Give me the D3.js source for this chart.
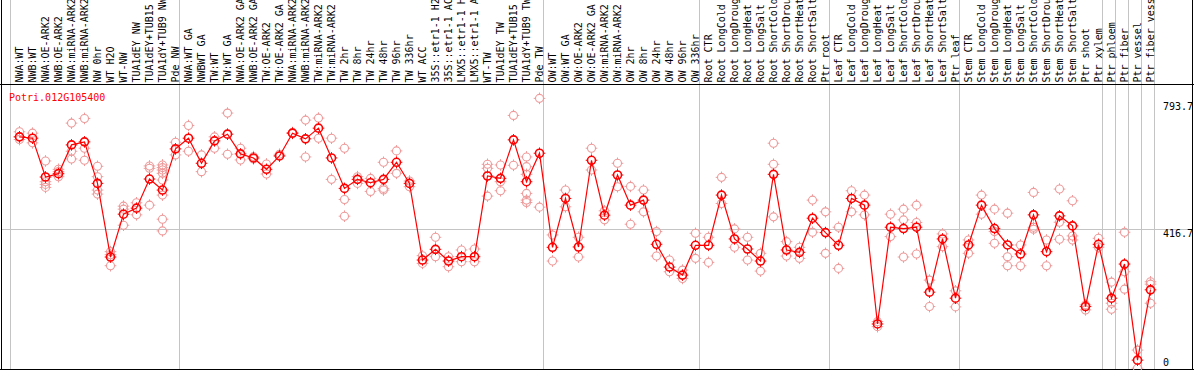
<!DOCTYPE html>
<html>
<head>
<meta charset="utf-8">
<script src="https://cdn.jsdelivr.net/npm/d3@7"></script>
<style>
html,body{margin:0;padding:0;background:#fff;}
svg{display:block;}
text{font-family:"DejaVu Sans Mono",monospace;font-size:10px;}
</style>
</head>
<body>
<div id="chart"></div>
<script>
const geneName = "Potri.012G105400";

const categories = [
"NWA:WT","NWB:WT","NWA:OE-ARK2","NWB:OE-ARK2","NWA:miRNA-ARK2","NWB:miRNA-ARK2","NW 0hr","WT H2O","WT-NW",
"TUA1dEY NW","TUA1dEY+TUB15 NW","TUA1dY+TUB9 NW","Pde NW",
"NWA:WT GA","NWBWT GA","TW:WT","TW:WT GA","NWA:OE-ARK2 GA","NWB:OE-ARK2 GA","TW:OE-ARK2","TW:OE-ARK2 GA",
"NWA:miRNA-ARK2 GA","NWB:miRNA-ARK2 GA","TW:miRNA-ARK2","TW:miRNA-ARK2 GA","TW 2hr","TW 8hr","TW 24hr","TW 48hr",
"TW 96hr","TW 336hr","WT ACC","35S::etr1-1 H2O","35S::etr1-1 ACC","LMX5::etr1-1 H2O","LMX5::etr1-1 ACC","WT-TW",
"TUA1dEY TW","TUA1dEY+TUB15 TW","TUA1dY+TUB9 TW","Pde TW",
"OW:WT","OW:WT GA","OW:OE-ARK2","OW:OE-ARK2 GA","OW:miRNA-ARK2","OW:miRNA-ARK2 GA","OW 2hr","OW 8hr","OW 24hr",
"OW 48hr","OW 96hr","OW 336hr",
"Root CTR","Root LongCold","Root LongDrought","Root LongHeat","Root LongSalt","Root ShortCold","Root ShortDrought",
"Root ShortHeat","Root ShortSalt","Ptr root",
"Leaf CTR","Leaf LongCold","Leaf LongDrought","Leaf LongHeat","Leaf LongSalt","Leaf ShortCold","Leaf ShortDrought",
"Leaf ShortHeat","Leaf ShortSalt","Ptr leaf",
"Stem CTR","Stem LongCold","Stem LongDrought","Stem LongHeat","Stem LongSalt","Stem ShortCold","Stem ShortDrought",
"Stem ShortHeat","Stem ShortSalt","Ptr shoot","Ptr xylem",
"Ptr phloem","Ptr fiber","Ptr vessel","Ptr fiber vessel"
];

const means = [
692,688,572,582,668,677,553,333,461,479,566,533,656,
688,613,680,700,641,629,595,635,703,686,718,629,538,565,555,565,616,553,324,356,321,334,334,575,568,683,558,643,
362,508,363,622,458,578,488,503,371,303,279,368,
368,518,387,357,321,580,354,347,449,406,
368,508,488,133,422,418,422,228,387,210,
369,488,418,369,342,459,349,456,426,185,371,
210,312,25,235
];

const replicates = [
[707,692,684],[703,674],[620,558,550,541],[595,588,573],[733,649,626],[747,658,622],[604,573,533,521],[349,340,307],[485,476,428],
[495,459],[605,598,488],[608,600,593,583,563,518,446,411],[676,638],
[726,649],[638,588],[692,658],[763,640],[658,623],[633,626],[611,581],[635,640],[702,705],[742,632],[748,688],[688,565],
[658,505,455],[573,553],[568,529],[616,538,533],[650,583],[560,543],[337,314],[392,334],[334,304],[354,319],[357,319],
[610,598,515],[608,558,531],[756,607],[632,603,580,523,503,496],[807,482],
[399,321],[533,483],[392,333],[658,593],[471,444],[613,543],[544,431],[533,468],[409,336],[324,289],[294,269],[404,329],
[392,317],[571,493],[417,362],[392,324],[344,291],[673,610,453],[379,336],[362,329],[503,407],[468,344],
[422,299],[531,468],[518,459],[125,140],[461,394],[476,444,333],[488,436,342],[264,185],[402,364],[232,184],
[384,344],[518,461],[476,409,374],[464,334,307],[369,307],[526,422,416],[384,307],[536,437,386],[501,396,384],[190,175],[389,362],
[258,195,177],[407,289,237],[55,1],[259,252,195]
];

const groupBreaks = [0,13,41,53,63,73,84,85,86,87,88];
const yTicks = [0, 416.7, 793.7];
const gridTicks = [416.7];

const W = 1194, H = 370;
const svg = d3.select("#chart").append("svg").attr("width", W).attr("height", H);

const x = d3.scaleBand().domain(categories).range([10.5, 10.5 + 13 * categories.length]).paddingInner(0).paddingOuter(0);
const px = c => x(c) + 9;
const y = d3.scaleLinear().domain([0, 793.7]).range([368.5, 102.8]);

const grey = "#c4c4c4";

// horizontal grid
svg.selectAll("line.hgrid").data(gridTicks).enter().append("line")
  .attr("x1", 1).attr("x2", 1193).attr("y1", d => Math.round(y(d)) + 0.5).attr("y2", d => Math.round(y(d)) + 0.5)
  .attr("stroke", grey).attr("stroke-width", 1);

// vertical group separators
svg.selectAll("line.vsep").data(groupBreaks).enter().append("line")
  .attr("x1", d => d < categories.length ? x(categories[d]) : x(categories[categories.length-1]) + x.bandwidth())
  .attr("x2", d => d < categories.length ? x(categories[d]) : x(categories[categories.length-1]) + x.bandwidth())
  .attr("y1", 0).attr("y2", 369).attr("stroke", grey).attr("stroke-width", 1);

// frame
const frame = svg.append("g").attr("stroke", "#000").attr("stroke-width", 1);
frame.append("line").attr("x1", 1.5).attr("x2", 1.5).attr("y1", 0).attr("y2", 370);
frame.append("line").attr("x1", 1192.5).attr("x2", 1192.5).attr("y1", 0).attr("y2", 370);
frame.append("line").attr("x1", 0).attr("x2", W).attr("y1", 84.5).attr("y2", 84.5);
frame.append("line").attr("x1", 0).attr("x2", W).attr("y1", 369.5).attr("y2", 369.5);

// header labels
svg.selectAll("text.cat").data(categories).enter().append("text")
  .attr("transform", d => `translate(${px(d) + 3.5},82.5) rotate(-90)`)
  .attr("fill", "#000")
  .text(d => d);

// right axis labels
svg.selectAll("text.ytick").data(yTicks).enter().append("text")
  .attr("x", 1163)
  .attr("y", d => d === 0 ? 366 : y(d) + 7.5)
  .attr("fill", "#000")
  .text(d => d === 0 ? "0" : d3.format(".1f")(d));

// gene label
svg.append("text").attr("x", 9).attr("y", 100.5).attr("fill", "#ff0000").text(geneName);

function marker(g, cx, cy, color, sw) {
  const m = g.append("g").attr("transform", `translate(${cx},${cy})`).attr("stroke", color).attr("fill", "none");
  m.append("circle").attr("r", 4).attr("stroke-width", sw);
  const t = [[0,-4,0,-5.8],[0,4,0,5.8],[-4,0,-5.8,0],[4,0,5.8,0]];
  t.forEach(a => m.append("line").attr("x1", a[0]).attr("y1", a[1]).attr("x2", a[2]).attr("y2", a[3]).attr("stroke-width", 1));
}

// replicate points
const repG = svg.append("g");
categories.forEach((c, i) => {
  replicates[i].forEach(v => marker(repG, px(c), y(v), "#ee9a9a", 1.1));
});

// mean line
const line = d3.line().x((d, i) => px(categories[i])).y(d => y(d));
svg.append("path").datum(means).attr("d", line).attr("fill", "none").attr("stroke", "#ff0000").attr("stroke-width", 1.2);

// mean points
const meanG = svg.append("g");
categories.forEach((c, i) => marker(meanG, px(c), y(means[i]), "#ff0000", 1.6));
</script>
</body>
</html>
